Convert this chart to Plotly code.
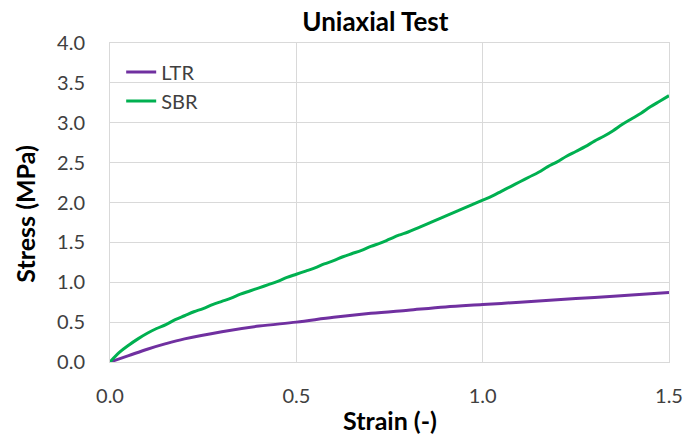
import plotly.graph_objects as go

strain = [0.0, 0.025, 0.05, 0.075, 0.1, 0.125, 0.15, 0.175, 0.2, 0.225, 0.25, 0.275, 0.3, 0.325, 0.35,
          0.375, 0.4, 0.425, 0.45, 0.475, 0.5, 0.525, 0.55, 0.575, 0.6, 0.625, 0.65, 0.675, 0.7, 0.725,
          0.75, 0.775, 0.8, 0.825, 0.85, 0.875, 0.9, 0.925, 0.95, 0.975, 1.0, 1.025, 1.05, 1.075, 1.1,
          1.125, 1.15, 1.175, 1.2, 1.225, 1.25, 1.275, 1.3, 1.325, 1.35, 1.375, 1.4, 1.425, 1.45, 1.475, 1.5]
sbr = [0.00, 0.12, 0.21, 0.29, 0.36, 0.42, 0.47, 0.53, 0.58, 0.63, 0.67, 0.72, 0.76, 0.80, 0.85,
       0.89, 0.93, 0.97, 1.01, 1.06, 1.10, 1.14, 1.18, 1.23, 1.27, 1.32, 1.36, 1.40, 1.45, 1.49,
       1.54, 1.59, 1.63, 1.68, 1.73, 1.78, 1.83, 1.88, 1.93, 1.98, 2.03, 2.08, 2.14, 2.20, 2.26,
       2.32, 2.38, 2.45, 2.51, 2.58, 2.64, 2.70, 2.77, 2.83, 2.90, 2.98, 3.05, 3.12, 3.20, 3.27, 3.34]
ltr_strain = [0.0, 0.05, 0.1, 0.15, 0.2, 0.3, 0.4, 0.5, 0.6, 0.7, 0.8, 0.9, 1.0, 1.1, 1.2, 1.3, 1.4, 1.5]
ltr = [0.0, 0.08, 0.16, 0.23, 0.29, 0.38, 0.45, 0.50, 0.56, 0.61, 0.65, 0.69, 0.72, 0.75, 0.78, 0.81, 0.84, 0.87]

x_ticks = [0.0, 0.5, 1.0, 1.5]
y_ticks = [0.0, 0.5, 1.0, 1.5, 2.0, 2.5, 3.0, 3.5, 4.0]

FONT = "Lato, 'Open Sans', sans-serif"
TITLE_FONT = dict(family=FONT, size=26, color="#000000")
AXIS_TITLE_FONT = dict(family=FONT, size=25, color="#000000")

fig = go.Figure()
fig.add_trace(go.Scatter(x=ltr_strain, y=ltr, mode="lines", name="LTR",
                         line=dict(color="#7030A0", width=3, shape="spline")))
fig.add_trace(go.Scatter(x=strain, y=sbr, mode="lines", name="SBR",
                         line=dict(color="#00B050", width=3, shape="spline")))

axis_common = dict(showgrid=True, gridcolor="#d9d9d9", gridwidth=1, showline=True,
                   linecolor="#d9d9d9", linewidth=1, mirror=True, zeroline=False, automargin=False,
                   tickfont=dict(family=FONT, size=20, color="#404040"), ticks="")

fig.update_layout(
    width=699, height=438,
    margin=dict(l=110, r=30, t=43, b=76),
    paper_bgcolor="white", plot_bgcolor="white",
    font=dict(family=FONT, color="#000000"),
    title=dict(text="<b>Uniaxial Test</b>", x=0.537, xanchor="center", y=0.95, yanchor="middle",
               font=TITLE_FONT),
    xaxis=dict(range=[0, 1.5], tickvals=x_ticks, ticktext=[f"{v:.1f}" for v in x_ticks],
               ticklabelstandoff=16, **axis_common),
    yaxis=dict(range=[0, 4.0], tickvals=y_ticks, ticktext=[f"{v:.1f}" for v in y_ticks],
               ticklabelstandoff=20, **axis_common),
    legend=dict(x=0.02, y=0.97, xanchor="left", yanchor="top", bgcolor="rgba(0,0,0,0)",
                font=dict(family=FONT, size=20, color="#404040"), tracegroupgap=10, itemwidth=30),
    showlegend=True,
    annotations=[
        dict(text="<b>Strain (-)</b>", xref="paper", yref="paper", x=0.5, y=-0.183,
             xanchor="center", yanchor="middle", showarrow=False, font=AXIS_TITLE_FONT),
        dict(text="<b>Stress (MPa)</b>", xref="paper", yref="paper", x=-0.152, y=0.465,
             xanchor="center", yanchor="middle", showarrow=False, textangle=-90, font=AXIS_TITLE_FONT),
    ],
)

fig.write_html("out.html")
